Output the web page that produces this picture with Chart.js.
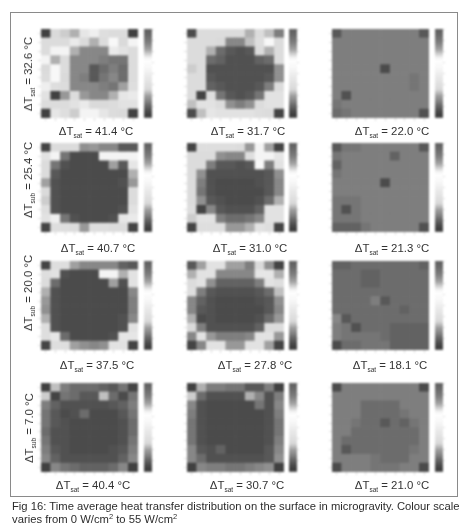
<!DOCTYPE html>
<html>
<head>
<meta charset="utf-8">
<title>Fig 16</title>
<script src="https://cdn.jsdelivr.net/npm/chart.js@4"></script>
<style>
  html, body { margin: 0; padding: 0; background: #fff; }
  body { position: relative; width: 464px; height: 532px; overflow: hidden;
         font-family: "Liberation Sans", Arial, sans-serif; color: #333; }
  canvas { position: absolute; filter: blur(0.85px); }
  #frame { position: absolute; left: 10px; top: 12px; width: 446px; height: 483px; border: 1px solid #8a8a8a; }
  .lab { position: absolute; font-size: 11.4px; white-space: nowrap; transform: translate(-50%, -50%); filter: blur(0.3px); }
  .lab sub { font-size: 6.5px; vertical-align: -3px; line-height: 0; }
  .rot { transform: translate(-50%, -50%) rotate(-90deg); }
  .cap { position: absolute; left: 12px; font-size: 11.25px; white-space: nowrap; color: #2c2c2c; filter: blur(0.3px); }
  .cap sup { font-size: 7.5px; vertical-align: 4px; line-height: 0; }
</style>
</head>
<body>
<div id="frame"></div>
<div class="cap" style="top:500px">Fig 16: Time average heat transfer distribution on the surface in microgravity. Colour scale</div>
<div class="cap" style="top:513px">varies from 0 W/cm<sup>2</sup> to 55 W/cm<sup>2</sup></div>

<script>
// heat flux per sensor, W/cm2 (top row first)
const sat414 = [
  [2,18,17,15,24,28,20,19,19,2],
  [19,19,19,26,18,15,19,32,18,30],
  [19,30,30,15,11,11,11,26,22,19],
  [30,15,19,11,11,11,10,9,9,19],
  [18,32,19,11,11,6,8,10,8,19],
  [19,32,18,11,10,6,9,11,8,19],
  [28,20,19,11,11,11,10,9,14,20],
  [22,2,13,19,13,11,11,15,24,26],
  [19,19,19,22,26,18,18,19,22,22],
  [2,24,20,17,30,30,24,19,18,2]
];
const sat317 = [
  [4,19,19,19,19,19,15,19,16,10],
  [19,19,19,18,11,11,16,20,32,19],
  [19,19,15,8,6,5,6,19,15,19],
  [19,19,8,7,5,5,5,7,8,19],
  [17,19,5,5,5,5,5,5,5,12],
  [19,19,6,5,5,5,5,5,6,12],
  [19,19,7,6,5,5,5,6,10,19],
  [19,3,20,9,6,5,6,9,22,22],
  [16,22,22,19,12,10,12,19,22,22],
  [4,16,24,22,22,22,22,20,19,3]
];
const sat220 = [
  [6,10,10,10,10,10,10,10,10,6],
  [10,10,10,10,10,10,10,10,10,10],
  [10,10,10,10,10,10,10,10,10,10],
  [10,10,10,10,10,10,10,10,10,10],
  [10,10,10,10,10,4,10,10,10,10],
  [10,10,10,10,10,10,10,10,9,10],
  [10,10,10,10,10,10,10,10,9,10],
  [10,5,10,10,10,10,10,10,10,10],
  [9,10,10,10,10,10,10,10,10,10],
  [8,9,10,10,10,10,10,10,10,5]
];
const sat407 = [
  [3,19,19,19,12,13,11,11,6,6],
  [22,30,9,4,4,4,30,30,30,30],
  [19,9,5,4,4,4,4,14,6,24],
  [19,6,4,4,4,4,4,4,4,15],
  [14,5,4,4,4,4,4,4,5,13],
  [18,5,4,4,4,4,4,4,4,19],
  [17,5,4,4,4,4,4,4,4,19],
  [20,5,4,4,4,4,4,4,5,22],
  [22,28,9,5,4,4,4,5,24,26],
  [3,20,20,19,13,20,20,19,19,3]
];
const sat310 = [
  [3,20,20,20,20,19,13,30,14,3],
  [19,19,19,12,11,11,20,30,30,24],
  [19,19,10,6,6,5,6,32,10,22],
  [19,12,5,5,5,5,5,5,6,12],
  [19,10,5,4,4,4,4,5,6,11],
  [19,9,5,4,4,4,4,4,6,11],
  [19,12,6,5,4,4,4,5,8,15],
  [20,3,11,6,5,5,5,7,22,22],
  [17,22,22,10,8,8,9,11,22,22],
  [3,20,20,20,13,13,15,22,20,3]
];
const sat213 = [
  [6,9,9,10,10,10,10,10,10,6],
  [9,10,10,10,10,10,7,10,10,10],
  [7,10,10,10,10,10,10,10,10,10],
  [9,10,10,10,10,10,10,10,10,10],
  [10,10,10,10,10,4,10,10,10,10],
  [10,10,10,10,10,10,10,10,10,10],
  [9,9,9,10,10,10,10,10,10,10],
  [9,5,9,10,10,10,10,10,10,10],
  [9,9,9,10,10,10,10,10,10,10],
  [7,7,7,9,10,10,10,10,10,5]
];
const sat375 = [
  [3,20,20,14,11,11,11,11,7,6],
  [20,22,5,4,4,4,30,30,15,22],
  [19,8,4,4,4,4,4,14,5,22],
  [15,5,4,4,4,4,4,4,4,11],
  [13,5,4,4,4,4,4,4,4,10],
  [12,5,4,4,4,4,4,4,4,10],
  [15,5,4,4,4,4,4,4,5,11],
  [20,5,4,4,4,4,4,4,5,22],
  [20,24,8,4,4,4,4,5,24,24],
  [3,20,20,14,12,11,12,22,22,3]
];
const sat278 = [
  [6,14,22,22,14,14,10,18,12,3],
  [15,22,22,11,11,11,11,24,24,15],
  [19,22,12,7,7,7,7,10,22,20],
  [20,10,6,5,5,5,5,6,8,16],
  [11,7,5,4,4,4,4,5,6,12],
  [11,6,5,4,4,4,4,4,6,11],
  [15,4,5,4,4,4,4,5,8,13],
  [18,10,5,5,5,5,5,7,19,19],
  [11,22,13,10,10,10,11,22,22,13],
  [3,11,22,22,13,13,22,22,14,3]
];
const sat181 = [
  [7,7,8,8,8,8,8,8,8,7],
  [8,8,8,7,7,8,8,8,8,8],
  [8,8,8,7,7,8,8,8,8,8],
  [8,8,8,8,8,8,8,8,8,8],
  [8,8,8,8,10,6,8,8,8,8],
  [8,8,8,8,8,8,8,7,8,8],
  [11,6,8,8,8,8,8,8,8,8],
  [10,9,5,8,8,8,7,7,7,7],
  [10,9,9,9,9,8,7,7,7,7],
  [4,8,8,9,9,9,7,7,7,7]
];
const sat404 = [
  [2,16,10,8,8,8,7,6,9,3],
  [17,3,9,8,6,6,16,8,4,9],
  [10,7,5,5,5,5,5,6,7,10],
  [9,6,4,5,8,4,4,4,6,9],
  [9,6,5,4,4,4,4,4,5,8],
  [8,5,5,4,4,4,4,4,5,8],
  [9,5,5,4,4,4,4,4,5,9],
  [10,6,5,4,4,4,4,5,6,10],
  [11,7,5,5,5,5,5,5,7,11],
  [2,11,9,8,7,7,7,8,11,2]
];
const sat307 = [
  [2,15,10,10,9,9,6,6,10,2],
  [17,8,5,5,5,5,15,11,5,10],
  [11,5,4,4,4,4,4,9,5,11],
  [10,5,4,4,4,4,4,4,5,10],
  [9,5,4,4,4,4,4,4,5,9],
  [9,5,4,4,4,4,4,4,5,9],
  [9,5,4,4,4,4,4,4,5,10],
  [11,6,5,7,4,4,4,4,6,11],
  [11,8,5,5,5,5,5,5,6,12],
  [2,11,10,10,9,9,10,11,12,2]
];
const sat210 = [
  [4,10,10,10,10,10,10,10,10,4],
  [10,10,10,10,10,10,10,10,10,10],
  [10,10,10,8,8,8,8,10,10,10],
  [10,10,10,8,8,8,8,9,10,10],
  [10,10,9,8,8,6,8,7,9,10],
  [10,10,8,8,8,8,8,8,8,10],
  [10,8,8,8,8,8,8,8,8,10],
  [10,6,8,8,8,8,8,8,9,10],
  [10,10,10,10,9,8,8,8,10,10],
  [4,10,10,10,9,9,9,10,10,4]
];

const panels = [sat414, sat317, sat220, sat407, sat310, sat213, sat375, sat278, sat181, sat404, sat307, sat210];

const xLabels = ['41.4', '31.7', '22.0', '40.7', '31.0', '21.3', '37.5', '27.8', '18.1', '40.4', '30.7', '21.0'];
const yNames  = ['sat', 'sub', 'sub', 'sub'];
const yValues = ['32.6', '25.4', '20.0', '7.0'];

const cells = ['1', '2', '3', '4', '5', '6', '7', '8', '9', '10'];

// colour scale is a jet map printed in greys: dark at both ends, white in the middle
const scaleLevels = [0,1,2,3,4,5,6,7,8,9,10,11,12,13,14,15,16,17,18,19,20,21,22,23,24,25,26,27,
  28,29,30,31,32,33,34,35,36,37,38,39,40,41,42,43,44,45,46,47,48,49,50,51,52,53,54,55];
const fluxStops = [0,  3,  6,  8,  10,  12,  14,  16,  18,  22,  26,  30,  36,  38,  40,  43,  47,  50,  55];
const greyStops = [56, 68, 88, 108, 126, 144, 160, 192, 218, 226, 234, 244, 255, 240, 208, 160, 128, 112, 96];

// page layout, px
const panelLeft = [41, 187, 332];
const panelTop  = [29, 143, 261, 383];
const barLeft   = [144, 289, 435];
const labelX = [[96, 248, 392], [98, 250, 392], [97, 255, 390], [93, 247, 392]];
const labelY = [131, 248, 365, 485];
const sideY  = [74, 180, 293, 428];
const sideX  = [28, 28, 28, 29];
const plotW = 97, plotH = 89, barW = 8, tickLen = 3;
const tickGrey = '#dcdcdc';

function grey(v) {
  let i = 0;
  while (i < fluxStops.length - 2 && v > fluxStops[i + 1]) i++;
  const t = (v - fluxStops[i]) / (fluxStops[i + 1] - fluxStops[i]);
  const g = Math.round(greyStops[i] + t * (greyStops[i + 1] - greyStops[i]));
  return 'rgb(' + g + ',' + g + ',' + g + ')';
}

function addCanvas(left, top, w, h) {
  const c = document.createElement('canvas');
  c.width = w; c.height = h;
  c.style.left = left + 'px';
  c.style.top = top + 'px';
  c.style.width = w + 'px';
  c.style.height = h + 'px';
  document.body.appendChild(c);
  return c;
}

function addLabel(x, y, html, cls) {
  const d = document.createElement('div');
  d.className = 'lab' + (cls ? ' ' + cls : '');
  d.style.left = x + 'px';
  d.style.top = y + 'px';
  d.innerHTML = html;
  document.body.appendChild(d);
}

const tickGrid = { drawOnChartArea: false, tickLength: tickLen, color: tickGrey };

// stacked bars, one dataset per plate row, bottom row first
function drawHeat(canvas, grid) {
  const datasets = grid.slice().reverse().map(row => ({
    data: row.map(() => 1),
    flux: row,
    backgroundColor: row.map(grey),
    borderWidth: 0,
    categoryPercentage: 1,
    barPercentage: 1,
    stack: 's'
  }));
  new Chart(canvas, {
    type: 'bar',
    data: { labels: cells, datasets: datasets },
    options: {
      responsive: false,
      animation: false,
      layout: { padding: 0 },
      plugins: { legend: { display: false }, tooltip: { enabled: false } },
      scales: {
        x: { stacked: true, offset: true, border: { display: false },
             grid: Object.assign({ offset: false }, tickGrid),
             ticks: { display: false } },
        y: { stacked: true, min: 0, max: cells.length, border: { display: false },
             afterBuildTicks: s => { s.ticks = cells.map((_, i) => ({ value: i + 0.5 })); },
             grid: tickGrid, ticks: { display: false } }
      }
    }
  });
}

function drawScale(canvas) {
  const datasets = scaleLevels.map(v => ({
    data: [1],
    backgroundColor: grey(v + 0.5),
    borderWidth: 0,
    categoryPercentage: 1,
    barPercentage: 1,
    stack: 's'
  }));
  new Chart(canvas, {
    type: 'bar',
    data: { labels: ['flux'], datasets: datasets },
    options: {
      responsive: false,
      animation: false,
      layout: { padding: 0 },
      plugins: { legend: { display: false }, tooltip: { enabled: false } },
      scales: {
        x: { stacked: true, display: false },
        y: { stacked: true, position: 'right', min: 0, max: scaleLevels.length,
             border: { display: false }, grid: { drawOnChartArea: false, tickLength: 2, color: tickGrey },
             ticks: { display: false, stepSize: 7 } }
      }
    }
  });
}

panels.forEach((grid, i) => {
  const col = i % 3, row = Math.floor(i / 3);
  drawHeat(addCanvas(panelLeft[col] - tickLen, panelTop[row], plotW + tickLen, plotH + tickLen), grid);
  drawScale(addCanvas(barLeft[col], panelTop[row], barW + 2, plotH));
  addLabel(labelX[row][col], labelY[row], '&Delta;T<sub>sat</sub> = ' + xLabels[i] + ' &deg;C');
});

yValues.forEach((v, r) => {
  addLabel(sideX[r], sideY[r], '&Delta;T<sub>' + yNames[r] + '</sub> = ' + v + ' &deg;C', 'rot');
});
</script>
</body>
</html>
